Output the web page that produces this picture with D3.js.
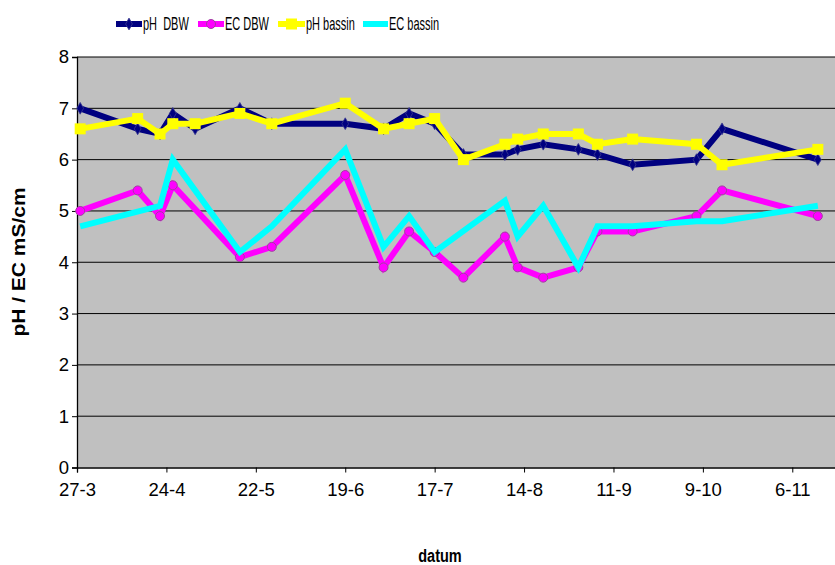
<!DOCTYPE html>
<html>
<head>
<meta charset="utf-8">
<script src="https://cdn.jsdelivr.net/npm/d3@7/dist/d3.min.js"></script>
<style>
  body { margin: 0; background: #fff; }
  text { font-family: Arial, "Liberation Sans", sans-serif; fill: #000; }
</style>
</head>
<body>
<svg id="chart" width="835" height="565"></svg>
<script>
// Sampling dates (day-month) and measured values; null = not measured that day
const sampleDates = ["28-3","15-4","22-4","26-4","3-5","17-5","27-5","19-6","1-7","9-7","17-7",
                     "26-7","8-8","12-8","20-8","31-8","6-9","17-9","7-10","15-10","14-11"];
const phDBW    = [7.0, 6.6, 6.5, 6.9, 6.6, 7.0, 6.7, 6.7, 6.6, 6.9, 6.7,
                  6.1, 6.1, 6.2, 6.3, 6.2, 6.1, 5.9, 6.0, 6.6, 6.0];
const ecDBW    = [5.0, 5.4, 4.9, 5.5, null, 4.1, 4.3, 5.7, 3.9, 4.6, 4.2,
                  3.7, 4.5, 3.9, 3.7, 3.9, 4.6, 4.6, 4.9, 5.4, 4.9];
const phBassin = [6.6, 6.8, 6.5, 6.7, 6.7, 6.9, 6.7, 7.1, 6.6, 6.7, 6.8,
                  6.0, 6.3, 6.4, 6.5, 6.5, 6.3, 6.4, 6.3, 5.9, 6.2];
const ecBassin = [4.7, null, 5.1, 6.0, null, 4.2, 4.7, 6.2, 4.3, 4.9, 4.2,
                  null, 5.2, 4.5, 5.1, 3.9, 4.7, 4.7, 4.8, 4.8, 5.1];

const seriesNames = ["pH  DBW", "EC DBW", "pH bassin", "EC bassin"];
const xTickLabels = ["27-3","24-4","22-5","19-6","17-7","14-8","11-9","9-10","6-11"];
const yTickValues = [0, 1, 2, 3, 4, 5, 6, 7, 8];
const axisStart = "27-3", axisEnd = "20-11";

const YEAR = 2007;
const parseDM = s => { const [d, m] = s.split("-").map(Number); return new Date(Date.UTC(YEAR, m - 1, d)); };

const svg = d3.select("#chart");
const plot = { left: 77, top: 57, bottom: 467.5, right: 837 };

const x = d3.scaleUtc()
  .domain([parseDM(axisStart), parseDM(axisEnd)])
  .range([plot.left, plot.right]);
const y = d3.scaleLinear().domain([0, 8]).range([plot.bottom, plot.top]);

// plot background
svg.append("rect")
  .attr("x", plot.left).attr("y", plot.top)
  .attr("width", plot.right - plot.left).attr("height", plot.bottom - plot.top)
  .attr("fill", "#c0c0c0");

// horizontal gridlines
svg.append("g").selectAll("line")
  .data(yTickValues.filter(v => v > 0))
  .join("line")
  .attr("x1", plot.left).attr("x2", plot.right)
  .attr("y1", d => y(d)).attr("y2", d => y(d))
  .attr("stroke", "#000").attr("stroke-width", 1);

// axes
const yAxis = svg.append("g")
  .attr("transform", `translate(${plot.left},0)`)
  .call(d3.axisLeft(y).tickValues(yTickValues).tickSize(5).tickPadding(3).tickFormat(d3.format("d")));
const xAxis = svg.append("g")
  .attr("transform", `translate(0,${plot.bottom})`)
  .call(d3.axisBottom(x).tickValues(xTickLabels.map(parseDM)).tickSize(5).tickPadding(10)
        .tickFormat((d, i) => xTickLabels[i]));
[yAxis, xAxis].forEach(g => {
  g.select(".domain").attr("stroke", "#000").attr("stroke-width", 1.3);
  g.selectAll(".tick line").attr("stroke", "#000");
  g.selectAll("text").attr("font-size", 18.5).attr("font-family", "Arial, 'Liberation Sans', sans-serif");
});

// series
const series = [
  { name: seriesNames[0], values: phDBW,    color: "#000080", marker: "diamond" },
  { name: seriesNames[1], values: ecDBW,    color: "#ff00ff", marker: "circle" },
  { name: seriesNames[2], values: phBassin, color: "#ffff00", marker: "square" },
  { name: seriesNames[3], values: ecBassin, color: "#00ffff", marker: "none" }
];

const line = d3.line().x(d => x(d.date)).y(d => y(d.value));

function drawMarker(sel, s) {
  if (s.marker === "diamond") {
    sel.append("path").attr("d", d3.symbol(d3.symbolDiamond, 40)())
      .attr("fill", s.color).attr("stroke", "#3a3a90").attr("stroke-width", 0.8);
  } else if (s.marker === "circle") {
    sel.append("circle").attr("r", 4.5)
      .attr("fill", s.color).attr("stroke", "#a040a0").attr("stroke-width", 1);
  } else if (s.marker === "square") {
    sel.append("rect").attr("x", -5.5).attr("y", -5.5).attr("width", 11).attr("height", 11)
      .attr("fill", s.color);
  }
}

series.forEach(s => {
  const pts = sampleDates.map((d, i) => ({ date: parseDM(d), value: s.values[i] }))
    .filter(p => p.value !== null);
  const g = svg.append("g");
  g.append("path").datum(pts).attr("d", line)
    .attr("fill", "none").attr("stroke", s.color).attr("stroke-width", 6)
    .attr("stroke-linejoin", "miter");
  g.selectAll("g.m").data(pts).join("g").attr("class", "m")
    .attr("transform", p => `translate(${x(p.date)},${y(p.value)})`)
    .each(function () { drawMarker(d3.select(this), s); });
});

// legend
const legendItems = [
  { x0: 116, x1: 142, tx: 143 },
  { x0: 198, x1: 224, tx: 225 },
  { x0: 278, x1: 305, tx: 306 },
  { x0: 363, x1: 388, tx: 389 }
];
const legend = svg.append("g");
series.forEach((s, i) => {
  const it = legendItems[i];
  const lg = legend.append("g");
  lg.append("line").attr("x1", it.x0).attr("x2", it.x1).attr("y1", 24).attr("y2", 24)
    .attr("stroke", s.color).attr("stroke-width", 6);
  const mg = lg.append("g").attr("transform", `translate(${(it.x0 + it.x1) / 2},24)`);
  drawMarker(mg, s);
  lg.append("text")
    .attr("transform", `translate(${it.tx},30) scale(1,1.6)`)
    .attr("font-size", 11).style("white-space", "pre")
    .text(s.name);
});

// axis titles
svg.append("text")
  .attr("transform", "translate(440,562) scale(1,1.3)")
  .attr("text-anchor", "middle").attr("font-size", 14.5).attr("font-weight", "bold")
  .text("datum");
svg.append("text")
  .attr("transform", "translate(25,262) rotate(-90) scale(1,0.85)")
  .attr("text-anchor", "middle").attr("font-size", 21).attr("font-weight", "bold")
  .text("pH / EC mS/cm");
</script>
</body>
</html>
